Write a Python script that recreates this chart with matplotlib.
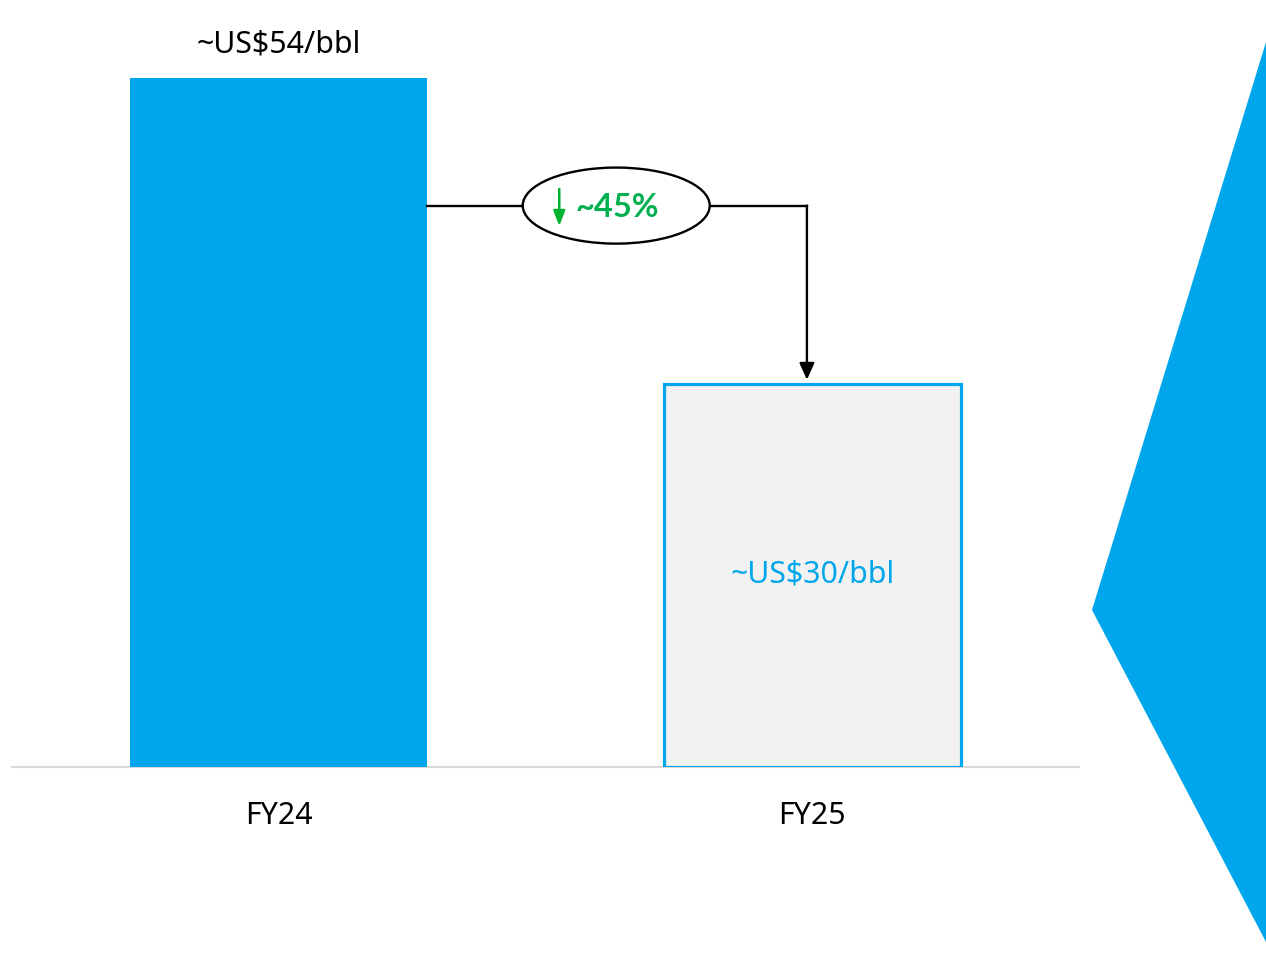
import matplotlib
matplotlib.use("Agg")
import matplotlib.pyplot as plt
from matplotlib.patches import Ellipse, Polygon

# Data
categories = ["FY24", "FY25"]
values = [54, 30]
value_labels = ["~US$54/bbl", "~US$30/bbl"]
change_label = "~45%"

BLUE = "#00a6eb"
GREEN = "#00b050"
ARROW_GREEN = "#00b22d"

plt.rcParams["font.family"] = ["Noto Sans", "DejaVu Sans"]

W, H = 1266, 955
fig = plt.figure(figsize=(W / 100, H / 100), dpi=100)

# Axes placed so the baseline sits near the lower part of the figure
base_px = 767
ax = fig.add_axes([12 / W, (H - base_px) / H, (1079 - 12) / W, base_px / H])
ax.set_xlim(-0.5, 1.5)
ax.set_ylim(0, values[0] * base_px / 689)
ax.axis("off")

x = list(range(len(categories)))
width = 0.557
FS = 21.8

# FY24 solid bar, FY25 outlined bar
ax.bar(x[0], values[0], width=width, color=BLUE, edgecolor="none", zorder=2)
ax.bar(x[1], values[1], width=width, color="#f2f2f2", edgecolor=BLUE,
       linewidth=2.3, zorder=2)

# Baseline
ax.axhline(0, color="#d9d9d9", linewidth=1.5, zorder=1, clip_on=False)

# Value labels
ax.text(x[0], values[0] + 2.6, value_labels[0], ha="center", va="center",
        fontsize=FS, color="black")
ax.text(x[1], values[1] / 2 + 0.1, value_labels[1], ha="center", va="center",
        fontsize=FS, color=BLUE)

# Category labels
for xi, c in zip(x, categories):
    ax.text(xi, -3.85, c, ha="center", va="center", fontsize=FS,
            color="black", clip_on=False)

# Connector: from FY24 bar, through the change bubble, down to FY25 bar
level = 44.0
ell_cx, ell_w, ell_h = 0.6326, 0.3505, 5.96
right_x = 0.99
LW = 1.7
ax.plot([x[0] + width / 2, ell_cx - ell_w / 2], [level, level],
        color="black", lw=LW, zorder=3)
ax.plot([ell_cx + ell_w / 2, right_x], [level, level],
        color="black", lw=LW, zorder=3, solid_capstyle="projecting")
ax.annotate("", xy=(right_x, values[1] + 0.35), xytext=(right_x, level),
            arrowprops=dict(arrowstyle="-|>,head_length=1.0,head_width=0.45",
                            color="black", lw=LW, shrinkA=0, shrinkB=0),
            zorder=3)

ax.add_patch(Ellipse((ell_cx, level), ell_w, ell_h, facecolor="white",
                     edgecolor="black", lw=LW, zorder=4))

arrow_x = (559 - 278.5) / 533.5
ax.annotate("", xy=(arrow_x, level - 1.6), xytext=(arrow_x, level + 1.3),
            arrowprops=dict(arrowstyle="-|>,head_length=0.9,head_width=0.35",
                            color=ARROW_GREEN, lw=1.8, shrinkA=0, shrinkB=0),
            zorder=5)
ax.text((575 - 278.5) / 533.5, level - 0.15, change_label, ha="left",
        va="center", fontsize=23.5, fontweight="bold", color=GREEN, zorder=5,
        family=["Lato", "DejaVu Sans"])

# Chevron on the right edge
chev = Polygon([(1.0, 1 - 42 / H), (1092 / W, 1 - 610 / H), (1.0, 1 - 942 / H)],
               closed=True, transform=fig.transFigure, facecolor=BLUE,
               edgecolor="none", clip_on=False)
fig.patches.append(chev)

fig.savefig("out.png", dpi=100, facecolor="white")
